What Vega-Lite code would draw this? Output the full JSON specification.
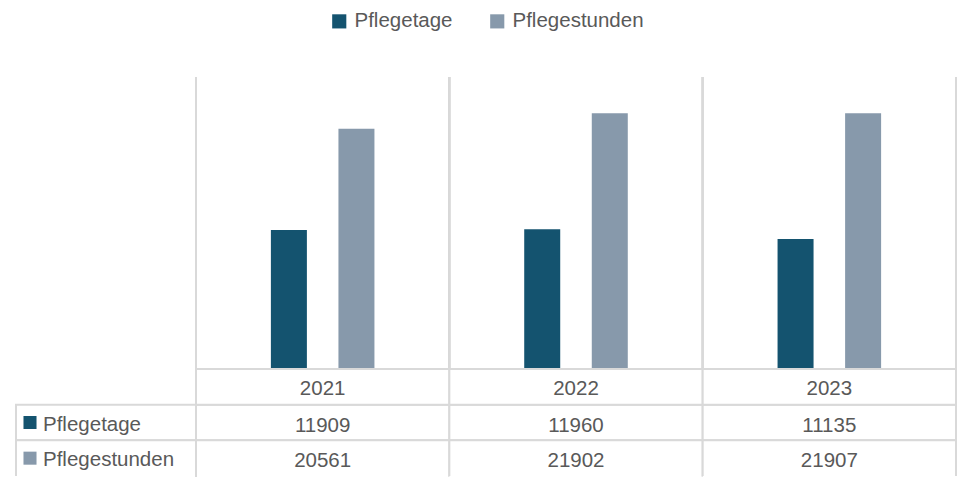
{
  "$schema": "https://vega.github.io/schema/vega-lite/v6.json",
  "padding": {"left": 15, "top": 11, "right": 0, "bottom": 0},
  "background": "white",
  "datasets": {
    "werte": [
      {"Jahr": "2021", "Reihe": "Pflegetage", "Wert": 11909},
      {"Jahr": "2021", "Reihe": "Pflegestunden", "Wert": 20561},
      {"Jahr": "2022", "Reihe": "Pflegetage", "Wert": 11960},
      {"Jahr": "2022", "Reihe": "Pflegestunden", "Wert": 21902},
      {"Jahr": "2023", "Reihe": "Pflegetage", "Wert": 11135},
      {"Jahr": "2023", "Reihe": "Pflegestunden", "Wert": 21907}
    ]
  },
  "columns": 2,
  "spacing": 0,
  "bounds": "flush",
  "resolve": {"scale": {"x": "independent", "y": "independent", "xOffset": "independent", "color": "shared"}},
  "concat": [
    {
      "width": 180,
      "height": 292,
      "data": {"values": []},
      "mark": {"type": "point", "opacity": 0},
      "encoding": {}
    },
    {
      "width": 760,
      "height": 292,
      "data": {"name": "werte"},
      "layer": [
        {
          "mark": {"type": "rule", "color": "#d9d9d9", "strokeWidth": 2},
          "encoding": {
            "x": {"field": "Jahr", "type": "nominal", "bandPosition": 0, "axis": null, "scale": {"paddingInner": 0, "paddingOuter": 0}}
          }
        },
        {
          "mark": {"type": "rule", "color": "#d9d9d9", "strokeWidth": 2},
          "encoding": {
            "x": {"field": "Jahr", "type": "nominal", "bandPosition": 1, "axis": null}
          }
        },
        {
          "mark": {"type": "bar", "width": 36},
          "encoding": {
            "x": {"field": "Jahr", "type": "nominal", "axis": null},
            "xOffset": {"field": "Reihe", "type": "nominal", "sort": ["Pflegetage", "Pflegestunden"], "scale": {"paddingInner": 0.25, "paddingOuter": 1}},
            "y": {"field": "Wert", "type": "quantitative", "axis": null, "scale": {"domain": [0, 25000]}},
            "color": {
              "field": "Reihe",
              "type": "nominal",
              "scale": {"domain": ["Pflegetage", "Pflegestunden"], "range": ["#14536F", "#8799AB"]},
              "legend": {
                "title": null,
                "orient": "top",
                "direction": "horizontal",
                "symbolType": "square",
                "symbolSize": 200,
                "symbolStrokeWidth": 0,
                "labelFontSize": 20.5,
                "labelColor": "#595959",
                "labelFont": "Liberation Sans",
                "labelOffset": 5,
                "columnPadding": 34,
                "offset": 44
              }
            }
          }
        }
      ]
    },
    {
      "width": 180,
      "height": 107,
      "data": {"name": "werte"},
      "transform": [{"filter": "datum.Jahr == '2021'"}],
      "encoding": {
        "y": {"field": "Reihe", "type": "nominal", "axis": null, "scale": {"domain": ["Jahr", "Pflegetage", "Pflegestunden"], "paddingInner": 0, "paddingOuter": 0}}
      },
      "layer": [
        {
          "transform": [{"filter": "datum.Reihe == 'Pflegetage'"}],
          "mark": {"type": "rect", "fill": "white", "stroke": "#d9d9d9", "strokeWidth": 2}
        },
        {
          "transform": [{"filter": "datum.Reihe == 'Pflegestunden'"}],
          "mark": {"type": "rect", "fill": "white", "stroke": "#d9d9d9", "strokeWidth": 2, "strokeDash": [215.67, 180, 40]}
        },
        {
          "mark": {"type": "point", "shape": "square", "filled": true, "size": 170, "opacity": 1, "x": 14, "dy": 2},
          "encoding": {"color": {"field": "Reihe", "type": "nominal"}}
        },
        {
          "mark": {"type": "text", "align": "left", "x": 27, "dy": 2, "font": "Liberation Sans", "fontSize": 20.5, "color": "#595959"},
          "encoding": {"text": {"field": "Reihe", "type": "nominal"}}
        }
      ]
    },
    {
      "width": 760,
      "height": 107,
      "data": {"name": "werte"},
      "encoding": {
        "x": {"field": "Jahr", "type": "nominal", "axis": null, "scale": {"paddingInner": 0, "paddingOuter": 0}}
      },
      "layer": [
        {
          "transform": [{"filter": "datum.Reihe == 'Pflegetage'"}],
          "mark": {"type": "rect", "fill": "white", "stroke": "#d9d9d9", "strokeWidth": 2},
          "encoding": {
            "y": {"field": "Reihe", "type": "nominal", "axis": null, "scale": {"domain": ["Jahr", "Pflegetage", "Pflegestunden"], "paddingInner": 0, "paddingOuter": 0}}
          }
        },
        {
          "transform": [{"filter": "datum.Reihe == 'Pflegestunden'"}],
          "mark": {"type": "rect", "fill": "white", "stroke": "#d9d9d9", "strokeWidth": 2, "strokeDash": [289, 253.33, 40]},
          "encoding": {"y": {"field": "Reihe", "type": "nominal"}}
        },
        {
          "transform": [{"filter": "datum.Reihe == 'Pflegetage'"}],
          "mark": {"type": "rect", "fill": "white", "stroke": "#d9d9d9", "strokeWidth": 2},
          "encoding": {"y": {"datum": "Jahr"}}
        },
        {
          "mark": {"type": "text", "font": "Liberation Sans", "fontSize": 20.5, "color": "#595959", "dy": 3},
          "encoding": {
            "y": {"field": "Reihe", "type": "nominal"},
            "text": {"field": "Wert", "type": "nominal"}
          }
        },
        {
          "transform": [{"filter": "datum.Reihe == 'Pflegetage'"}],
          "mark": {"type": "text", "font": "Liberation Sans", "fontSize": 20.5, "color": "#595959", "dy": 2},
          "encoding": {
            "y": {"datum": "Jahr"},
            "text": {"field": "Jahr", "type": "nominal"}
          }
        }
      ]
    }
  ],
  "config": {
    "view": {"stroke": null},
    "legend": {"layout": {"top": {"anchor": "middle"}}}
  }
}
